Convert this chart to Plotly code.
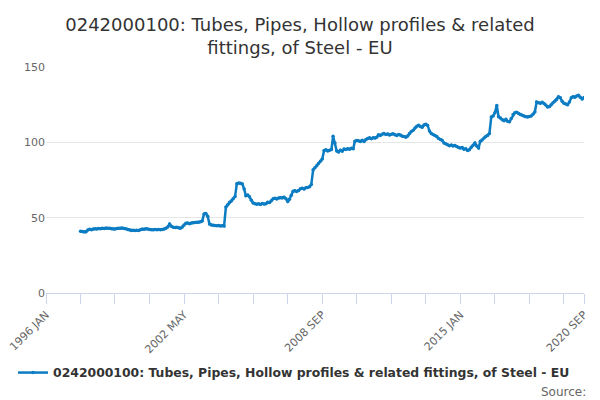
import pandas as pd
import plotly.graph_objects as go

title_text = "0242000100: Tubes, Pipes, Hollow profiles & related<br>fittings, of Steel - EU"
series_name = "0242000100: Tubes, Pipes, Hollow profiles & related fittings, of Steel - EU"

start_month = "1997-08-01"
values = [
    41.0, 40.8, 40.5, 40.6, 41.8, 42.3, 42.0, 42.4, 42.6, 42.5, 42.8, 42.7, 43.0, 42.8, 43.1, 43.0, 42.9,
    42.7, 42.4, 42.5, 42.8, 43.0, 42.9, 43.1, 42.8, 42.6, 42.2, 41.8, 41.5, 41.7, 41.4, 41.6, 41.5, 42.0,
    42.4, 42.3, 42.6, 42.4, 42.1, 42.0, 41.9, 42.1, 42.0, 42.2, 41.9, 42.1, 42.4, 42.9, 43.8, 45.8, 44.3,
    43.6, 43.4, 43.6, 43.3, 43.0, 43.8, 45.2, 46.3, 46.5, 46.0, 46.4, 46.6, 46.8, 47.0, 46.9, 47.3, 47.8,
    52.5, 52.8, 51.0, 45.8, 45.2, 44.9, 44.8, 44.6, 44.8, 44.5, 44.7, 44.4, 57.0, 58.5, 60.2, 61.0, 62.6,
    64.0, 72.5, 73.0, 72.8, 72.4, 69.0, 64.5, 65.0, 63.8, 61.5, 59.8, 59.3, 58.9, 59.2, 58.8, 59.4, 59.0,
    59.2, 60.3, 60.0, 61.2, 62.5, 62.9, 62.4, 63.1, 63.3, 63.0, 63.6, 62.6, 60.8, 62.2, 64.8, 67.5, 67.9,
    67.4, 68.0, 69.2, 69.6, 69.0, 69.8, 70.1, 70.6, 72.0, 81.8, 83.2, 84.5, 86.0, 87.4, 89.0, 94.5, 95.0,
    94.3, 94.8, 95.2, 104.0, 99.5, 94.2, 93.6, 94.8, 94.1, 95.6, 95.3, 95.8, 95.4, 96.0, 95.7, 100.8, 101.2,
    101.0, 100.6, 101.3, 100.5, 101.8, 102.6, 103.0, 102.4, 103.1, 102.8, 103.4, 105.0, 104.6, 105.4, 105.8,
    105.2, 105.6, 104.8, 105.3, 105.7, 105.0, 104.6, 105.2, 104.8, 104.1, 103.8, 103.4, 104.2, 105.8, 107.2,
    108.0, 109.5, 110.6, 111.3, 110.5, 110.0, 111.5, 112.0, 111.2, 107.5, 105.8, 105.2, 104.6, 103.8, 102.5,
    101.8, 101.3, 99.6, 99.0, 98.4, 97.8, 98.2, 97.6, 97.9, 97.3, 96.6, 96.2, 96.5, 95.4, 95.8, 94.6, 95.1,
    96.8, 98.0, 99.6, 97.5, 96.3, 100.8, 101.6, 102.8, 103.9, 104.6, 105.8, 116.8, 117.5, 119.6, 124.5,
    117.0, 116.2, 115.0, 114.4, 115.3, 114.0, 113.6, 115.8, 118.4, 119.6, 119.9, 119.2, 118.4, 117.9, 117.4,
    117.0, 116.8, 117.1, 117.5, 118.6, 120.2, 126.8, 126.3, 125.9, 126.6, 125.8, 124.7, 123.4, 123.8, 124.9,
    126.2, 127.3, 128.4, 130.2, 129.6, 127.2, 126.0, 125.4, 125.0, 126.8, 129.6, 130.3, 130.0, 130.8, 131.2,
    130.0, 128.8, 129.7,
]

tick_dates = [
    "1996-01-01", "1997-08-01", "1999-03-01", "2000-10-01", "2002-05-01", "2003-12-01",
    "2005-07-01", "2007-02-01", "2008-09-01", "2010-04-01", "2011-11-01", "2013-06-01",
    "2015-01-01", "2016-08-01", "2018-03-01", "2019-10-01", "2020-09-01",
]
tick_labels = [
    "1996 JAN", "", "", "", "2002 MAY", "", "", "", "2008 SEP", "", "", "",
    "2015 JAN", "", "", "", "2020 SEP",
]
y_ticks = [0, 50, 100, 150]

dates = pd.date_range(start=start_month, periods=len(values), freq="MS")

color = "#0c7cc3"
fig = go.Figure()
fig.add_trace(go.Scatter(
    x=dates, y=values, mode="lines+markers", name=series_name,
    line=dict(color=color, width=2.5),
    marker=dict(color=color, size=3.5),
))

fig.update_layout(
    width=600, height=400,
    paper_bgcolor="white", plot_bgcolor="white",
    margin=dict(l=46, r=16, t=67, b=107, autoexpand=False),
    font=dict(family="DejaVu Sans", color="#666666"),
    title=dict(text=title_text, x=0.5, xanchor="center", y=0.9225, yanchor="middle",
               font=dict(family="DejaVu Sans", size=18, color="#333333")),
    showlegend=True,
    legend=dict(orientation="h", x=0.461, xanchor="center", y=-0.354, yanchor="middle",
                font=dict(family="DejaVu Sans", size=12.4, color="#333333", weight="bold")),
    xaxis=dict(
        type="date", range=["1996-01-01", "2020-09-01"],
        tickvals=tick_dates, ticktext=tick_labels, tickangle=-45,
        ticks="outside", ticklen=10, tickcolor="#ccd6eb", tickwidth=1,
        showline=True, linecolor="#ccd6eb", linewidth=1,
        showgrid=False, zeroline=False,
        tickfont=dict(size=11, color="#666666"),
    ),
    yaxis=dict(
        range=[0, 150], tickvals=y_ticks,
        showgrid=True, gridcolor="#e6e6e6", gridwidth=1,
        zeroline=False, showline=False, ticks="",
        tickfont=dict(size=11, color="#666666"),
    ),
    annotations=[dict(text="Source:", xref="paper", yref="paper", x=1.0074, y=-0.438,
                      xanchor="right", yanchor="middle", showarrow=False,
                      font=dict(size=12, color="#666666"))],
)

fig.write_html("out.html", config={"displayModeBar": False},
               post_script="document.body.style.margin='0';")
